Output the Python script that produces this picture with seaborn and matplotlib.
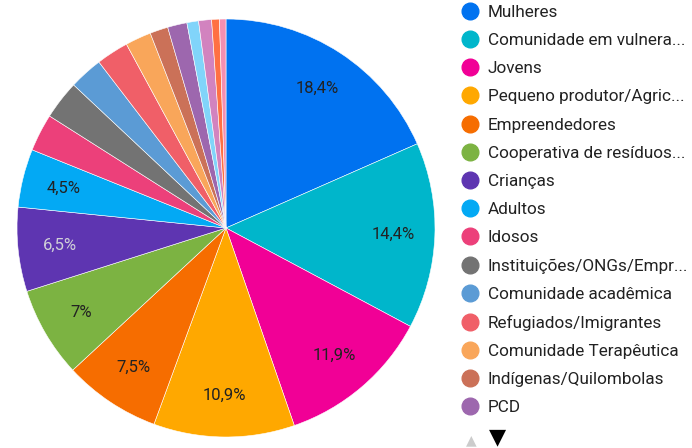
import matplotlib
matplotlib.use("Agg")
import matplotlib.pyplot as plt
from matplotlib.lines import Line2D
import seaborn as sns

# --- Dados ---
legend_names = [
    "Mulheres", "Comunidade em vulnera...", "Jovens", "Pequeno produtor/Agric...",
    "Empreendedores", "Cooperativa de resíduos...", "Crianças", "Adultos",
    "Idosos", "Instituições/ONGs/Empr...", "Comunidade acadêmica",
    "Refugiados/Imigrantes", "Comunidade Terapêutica", "Indígenas/Quilombolas", "PCD",
]
# participação (%) de cada fatia, no sentido horário a partir do topo
shares = [18.4, 14.4, 11.9, 10.9, 7.5, 7.0, 6.5, 4.5,
          2.9, 3.0, 2.6, 2.5, 2.0, 1.4, 1.5, 0.9, 1.0, 0.6, 0.5]
slice_colors = [
    "#0072F0", "#00B6CB", "#F10096", "#FFA800", "#F66D00", "#7CB342",
    "#5E35B1", "#03A9F4", "#EC407A", "#737373", "#5B9BD5", "#F05F68",
    "#F9A65A", "#CB7158", "#9D67AE", "#81D4FA", "#D283BF", "#FF7043", "#F48FB1",
]

sns.set_theme(style="white")
plt.rcParams['font.family'] = ['Roboto', 'DejaVu Sans']
palette = sns.color_palette(slice_colors)

W, H = 692, 448
fig = plt.figure(figsize=(W / 100, H / 100), dpi=100)

# pizza: centro (226, 228) px, raio 209 px
cx, cy, r = 226, 228, 209
ax = fig.add_axes([(cx - r) / W, (H - cy - r) / H, 2 * r / W, 2 * r / H])


def fmt_pct(p):
    if p < 4:
        return ""
    s = f"{p:.1f}".replace(".", ",")
    if s.endswith(",0"):
        s = s[:-2]
    return s + "%"


wedges, _, autotexts = ax.pie(
    shares, colors=palette, startangle=90, counterclock=False,
    autopct=fmt_pct, pctdistance=0.8, radius=1,
    wedgeprops=dict(edgecolor="white", linewidth=0.4),
    textprops=dict(fontsize=12, color="#222222"),
)
autotexts[6].set_color("#D0D0D8")
ax.set_xlim(-1, 1)
ax.set_ylim(-1, 1)
ax.set_aspect("equal")
ax.axis("off")

# legenda (primeira página)
handles = [Line2D([0], [0], marker="o", linestyle="", markersize=12,
                  markerfacecolor=palette[i], markeredgecolor=palette[i])
           for i in range(len(legend_names))]
fig.legend(handles, legend_names, loc="upper left",
           bbox_to_anchor=(459.5 / W, 1 - 5 / H), frameon=False,
           fontsize=12.3, labelcolor="#222222", borderpad=0, borderaxespad=0,
           handlelength=1.2, handletextpad=0.45, labelspacing=0.77)

# setas de paginação
fig.text(471 / W, 1 - 447 / H, "▲", color="#CCCCCC", fontsize=10,
         ha="center", va="bottom", family="DejaVu Sans")
fig.text(497 / W, 1 - 447 / H, "▼", color="#000000", fontsize=16,
         ha="center", va="bottom", family="DejaVu Sans")

fig.savefig("out.png", dpi=100, facecolor="white")
